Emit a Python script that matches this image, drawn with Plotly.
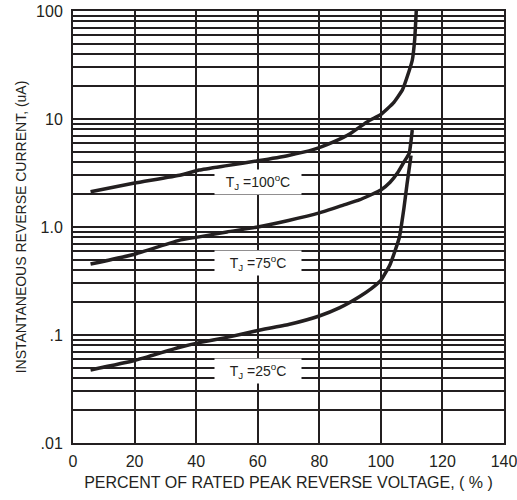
import math
import plotly.graph_objects as go

# Percent of rated peak reverse voltage (%) and current (uA)
x_100 = [5.7, 20, 35, 41, 50, 60, 70, 78, 85, 90, 96, 100, 104, 107, 109.2, 110.2, 111.0, 111.5]
y_100 = [2.12, 2.55, 3.03, 3.37, 3.7, 4.1, 4.6, 5.2, 6.2, 7.3, 9.6, 11, 14, 18.6, 28, 35, 55, 100]

x_75 = [5.7, 20, 35, 41, 50, 60, 70, 80, 88, 93, 97, 100, 103, 105.5, 107.5, 109.2, 110.2]
y_75 = [0.454, 0.56, 0.76, 0.81, 0.9, 1.0, 1.15, 1.35, 1.6, 1.78, 2.0, 2.2, 2.6, 3.2, 4.0, 4.8, 7.9]

x_25 = [5.7, 20, 34.7, 41, 50, 60, 70, 80, 86.5, 93, 97, 100, 103, 106, 107.5, 108.5, 109.8]
y_25 = [0.0474, 0.058, 0.077, 0.085, 0.095, 0.11, 0.125, 0.15, 0.178, 0.226, 0.27, 0.32, 0.45, 0.8, 1.5, 2.5, 4.6]

labels = ["T<sub>J</sub> =100<sup>o</sup>C", "T<sub>J</sub> =75<sup>o</sup>C", "T<sub>J</sub> =25<sup>o</sup>C"]
label_x = [60, 60, 60]
label_y = [2.6, 0.464, 0.0464]

x_ticks = [0, 20, 40, 60, 80, 100, 120, 140]
y_ticks = [0.01, 0.1, 1, 10, 100]
y_ticktext = [".01", ".1", "1.0", "10", "100"]
y_minor = [m * d for d in [0.01, 0.1, 1, 10] for m in range(2, 10)]

LINE = "#231f20"
FONT = "Liberation Sans, Arial, sans-serif"

fig = go.Figure()
for xs, ys in [(x_100, y_100), (x_75, y_75), (x_25, y_25)]:
    fig.add_trace(go.Scatter(x=xs, y=ys, mode="lines",
                             line=dict(color=LINE, width=3.5, shape="spline", smoothing=0.4),
                             showlegend=False, hoverinfo="skip"))

for t, lx, ly in zip(labels, label_x, label_y):
    fig.add_annotation(x=lx, y=math.log10(ly), yref="y", xref="x", text=t, showarrow=False,
                       bgcolor="white", width=84, height=22,
                       font=dict(family=FONT, size=14, color=LINE))

fig.update_layout(
    width=517, height=500,
    margin=dict(l=73, r=13, t=11, b=57, autoexpand=False),
    paper_bgcolor="white", plot_bgcolor="white",
    font=dict(family=FONT, size=16, color=LINE),
    xaxis=dict(range=[0, 140], tickvals=x_ticks, showgrid=True, gridcolor=LINE, gridwidth=2,
               showline=True, linecolor=LINE, linewidth=2, mirror=True, zeroline=False,
               ticks="", ticklabelstandoff=3, automargin=False, ticklabeloverflow="allow",
               tickfont=dict(size=16),
               title=dict(text="PERCENT OF RATED PEAK REVERSE VOLTAGE, ( % )",
                          font=dict(size=16), standoff=8)),
    yaxis=dict(type="log", range=[-2, 2], tickvals=y_ticks, ticktext=y_ticktext,
               showgrid=True, gridcolor=LINE, gridwidth=2,
               minor=dict(tickvals=y_minor, showgrid=True, gridcolor=LINE, gridwidth=2, ticks=""),
               showline=True, linecolor=LINE, linewidth=2, mirror=True, zeroline=False,
               ticks="", ticklabelstandoff=5, automargin=False, ticklabeloverflow="allow",
               tickfont=dict(size=16),
               title=dict(text="INSTANTANEOUS REVERSE CURRENT, (uA)",
                          font=dict(size=14), standoff=6)),
)

# remove the default page body margin so the figure sits at the window's top-left corner
fig.write_html("out.html", config={"displayModeBar": False},
               post_script="document.body.style.margin='0';")
